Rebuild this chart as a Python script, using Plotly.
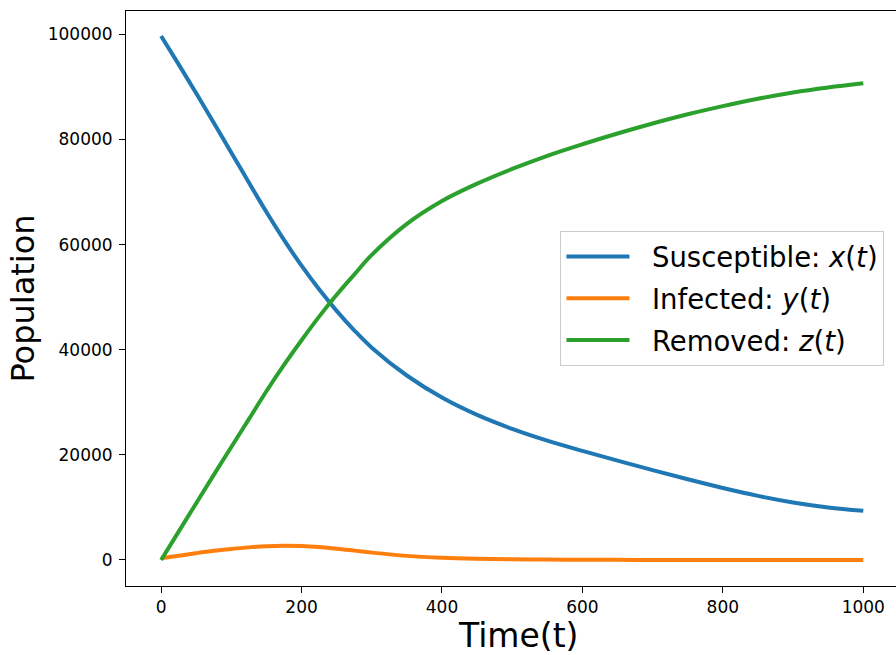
import plotly.graph_objects as go

t = [0, 25, 50, 75, 100, 125, 150, 175, 200, 225, 250, 275, 300,
     350, 400, 450, 500, 550, 600, 650, 700, 750, 800, 850, 900, 950, 1000]
susceptible = [99700, 94300, 88800, 83200, 77500, 71800, 66200, 60900, 56000,
               51500, 47400, 43700, 40400,
               35100, 30900, 27600, 24950, 22700, 20750, 18900, 17100, 15350,
               13700, 12200, 10950, 10000, 9350]
infected = [350, 800, 1300, 1750, 2100, 2400, 2620, 2720, 2650, 2450, 2150,
            1780, 1400,
            780, 420, 230, 130, 75, 45, 25, 15, 8, 5, 3, 2, 1, 1]
removed = [0, 5400, 10800, 16200, 21500, 26800, 32100, 37100, 41800, 46300,
           50450, 54300, 58050,
           63950, 68300, 71600, 74400, 76900, 79100, 81150, 83050, 84800,
           86350, 87750, 88950, 89900, 90700]

names = ["\u00a0\u00a0Susceptible: <i>x</i>(<i>t</i>)",
         "\u00a0\u00a0Infected: <i>y</i>(<i>t</i>)",
         "\u00a0\u00a0Removed: <i>z</i>(<i>t</i>)"]
colors = ["#1f77b4", "#ff7f0e", "#2ca02c"]
xticks = [0, 200, 400, 600, 800, 1000]
yticks = [0, 20000, 40000, 60000, 80000, 100000]

FONT = "DejaVu Sans"
fig = go.Figure()
for i, (ys, nm, c) in enumerate(zip([susceptible, infected, removed], names, colors)):
    fig.add_trace(go.Scatter(x=t, y=ys, mode="lines", name=nm,
                             legendgroup=f"g{i}",
                             line=dict(color=c, width=4, shape="spline", smoothing=1.0)))

fig.update_layout(
    width=896, height=655,
    margin=dict(l=126, r=0, t=11, b=69, autoexpand=False),
    paper_bgcolor="white", plot_bgcolor="white",
    font=dict(family=FONT, color="black"),
    showlegend=True,
    legend=dict(x=0.985, y=0.5, xanchor="right", yanchor="middle",
                bgcolor="rgba(255,255,255,0.8)", bordercolor="#cccccc", borderwidth=1,
                font=dict(family=FONT, size=27.5, color="black"),
                traceorder="grouped", tracegroupgap=3, itemwidth=63),
    xaxis=dict(range=[-50, 1046.6], tickvals=xticks, ticktext=[str(v) for v in xticks],
               showgrid=False, zeroline=False, showline=True, linecolor="black",
               linewidth=1, mirror=True, ticks="outside", ticklen=6, tickwidth=1,
               automargin=False,
               tickcolor="black", tickfont=dict(family=FONT, size=17, color="black")),
    yaxis=dict(range=[-4950, 104450], tickvals=yticks, ticktext=[str(v) for v in yticks],
               showgrid=False, zeroline=False, showline=True, linecolor="black",
               linewidth=1, mirror=False, ticks="outside", ticklen=6, tickwidth=1,
               automargin=False, ticklabelstandoff=3,
               tickcolor="black", tickfont=dict(family=FONT, size=17, color="black")),
    annotations=[
        dict(text="Time(t)", xref="paper", yref="paper", x=0.509, y=0, yshift=-49,
             xanchor="center", yanchor="middle", showarrow=False,
             font=dict(family=FONT, size=33, color="black")),
        dict(text="Population", xref="paper", yref="paper", x=-0.135, y=0.5,
             xanchor="center", yanchor="middle", textangle=-90, showarrow=False,
             font=dict(family=FONT, size=32, color="black")),
    ],
)

fig.write_html("out.html", config={"displayModeBar": False},
               post_script="document.body.style.margin='0';document.body.style.overflow='hidden';"
                           "document.documentElement.style.overflow='hidden';")
